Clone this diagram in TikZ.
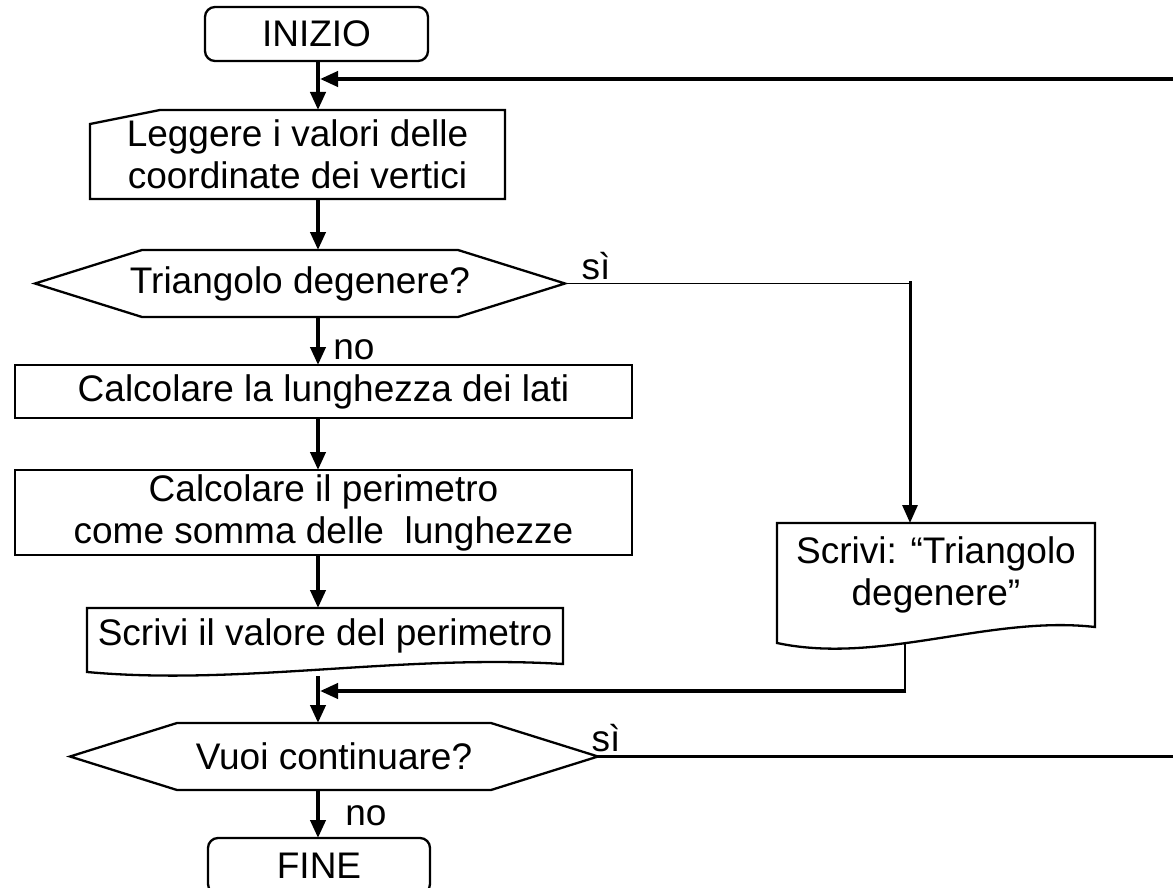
\documentclass[tikz,border=0pt]{standalone}
\usepackage{fontspec}
\setmainfont{Liberation Sans}
\usetikzlibrary{arrows.meta}
\tikzset{
  txt/.style={font=\fontsize{37}{42}\selectfont, align=center, inner sep=0pt, outer sep=0pt},
  shp/.style={line width=2.3pt, line join=miter},
  arr/.style={line width=4pt, -{Triangle[length=18pt,width=15pt]}},
  thinln/.style={line width=1.8pt},
  midln/.style={line width=2.7pt},
}
\begin{document}
\begin{tikzpicture}[x=1pt,y=-1pt]
\useasboundingbox (0,0) rectangle (1173,888);
\coordinate (ax) at (318,0);
\coordinate (r1) at (910,0);
\coordinate (loopT) at (1173,79);
\coordinate (loopB) at (1173,756.5);
\coordinate (o1b) at (318,676);
\coordinate (o2b) at (905,643);
\coordinate (mrg) at (318,691);

% start
\node[txt, draw, shp, rounded corners=10pt, minimum width=223pt, minimum height=54pt] (start) at (316.5,34) {INIZIO};

% input
\node[txt, minimum width=415pt, minimum height=89pt] (inp) at (297.5,154.5) {Leggere i valori delle\\coordinate dei vertici};
\draw[shp] (inp.south west) -- ([yshift=-14pt]inp.north west) -- ([xshift=70pt]inp.north west) -- (inp.north east) -- (inp.south east) -- cycle;

% decision 1
\node[txt, minimum width=530pt, minimum height=67pt] (dec1) at (300,283.5) {Triangolo degenere?};
\draw[shp] (dec1.west) -- ([xshift=107pt]dec1.north west) -- ([xshift=-107pt]dec1.north east) -- (dec1.east) -- ([xshift=-107pt]dec1.south east) -- ([xshift=107pt]dec1.south west) -- cycle;

% process boxes
\node[txt, draw, shp, minimum width=617pt, minimum height=53pt] (calc1) at (323.5,391.5) {Calcolare la lunghezza dei lati};
\node[txt, draw, shp, minimum width=617pt, minimum height=85pt] (calc2) at (323.5,512.5) {Calcolare il perimetro\\come somma delle\ \ lunghezze};

% output 1
\node[txt, minimum width=476pt, minimum height=56pt] (out1) at (325,636) {Scrivi il valore del perimetro};
\draw[shp] (out1.south east) -- (out1.north east) -- (out1.north west) -- ([yshift=-8pt]out1.south west) .. controls (240,686) and (400,654) .. (out1.south east) -- cycle;

% output 2
\node[txt, minimum width=318pt, minimum height=104pt] (out2) at (936,575) {Scrivi: “Triangolo\\degenere”};
\draw[shp] (out2.south east) -- (out2.north east) -- (out2.north west) -- ([yshift=-16pt]out2.south west) .. controls (880,665) and (990,615) .. (out2.south east) -- cycle;

% decision 2
\node[txt, minimum width=528pt, minimum height=67pt] (dec2) at (334,756.5) {Vuoi continuare?};
\draw[shp] (dec2.west) -- ([xshift=107pt]dec2.north west) -- ([xshift=-107pt]dec2.north east) -- (dec2.east) -- ([xshift=-107pt]dec2.south east) -- ([xshift=107pt]dec2.south west) -- cycle;

% end
\node[txt, draw, shp, rounded corners=10pt, minimum width=222pt, minimum height=56pt] (fine) at (319,866) {FINE};

% labels
\node[txt] (si1) at (596,266) {sì};
\node[txt] (no1) at (354,350) {no};
\node[txt] (si2) at (606,738) {sì};
\node[txt] (no2) at (366,816) {no};

% connectors
\draw[arr] (start.south -| ax) -- (inp.north -| ax);
\draw[arr] (loopT) -- ([xshift=2pt]loopT -| ax);
\draw[arr] (inp.south -| ax) -- (dec1.north -| ax);
\draw[arr] (dec1.south -| ax) -- (calc1.north -| ax);
\draw[arr] (calc1.south -| ax) -- (calc2.north -| ax);
\draw[arr] (calc2.south -| ax) -- (out1.north -| ax);
\draw[arr] (o1b) -- (dec2.north -| ax);
\draw[midln] (o2b) -- ([yshift=-2pt]mrg -| o2b);
\draw[arr] ([xshift=1.35pt]mrg -| o2b) -- ([xshift=2pt]mrg);
\draw[arr] (dec2.south -| ax) -- (fine.north -| ax);
\draw[thinln] (dec1.east) -- (dec1.east -| r1);
\draw[arr, line width=3pt, line cap=rect] ([yshift=1pt]dec1.east -| r1) -- (out2.north -| r1);
\draw[midln] (dec2.east) -- (loopB);
\end{tikzpicture}
\end{document}
